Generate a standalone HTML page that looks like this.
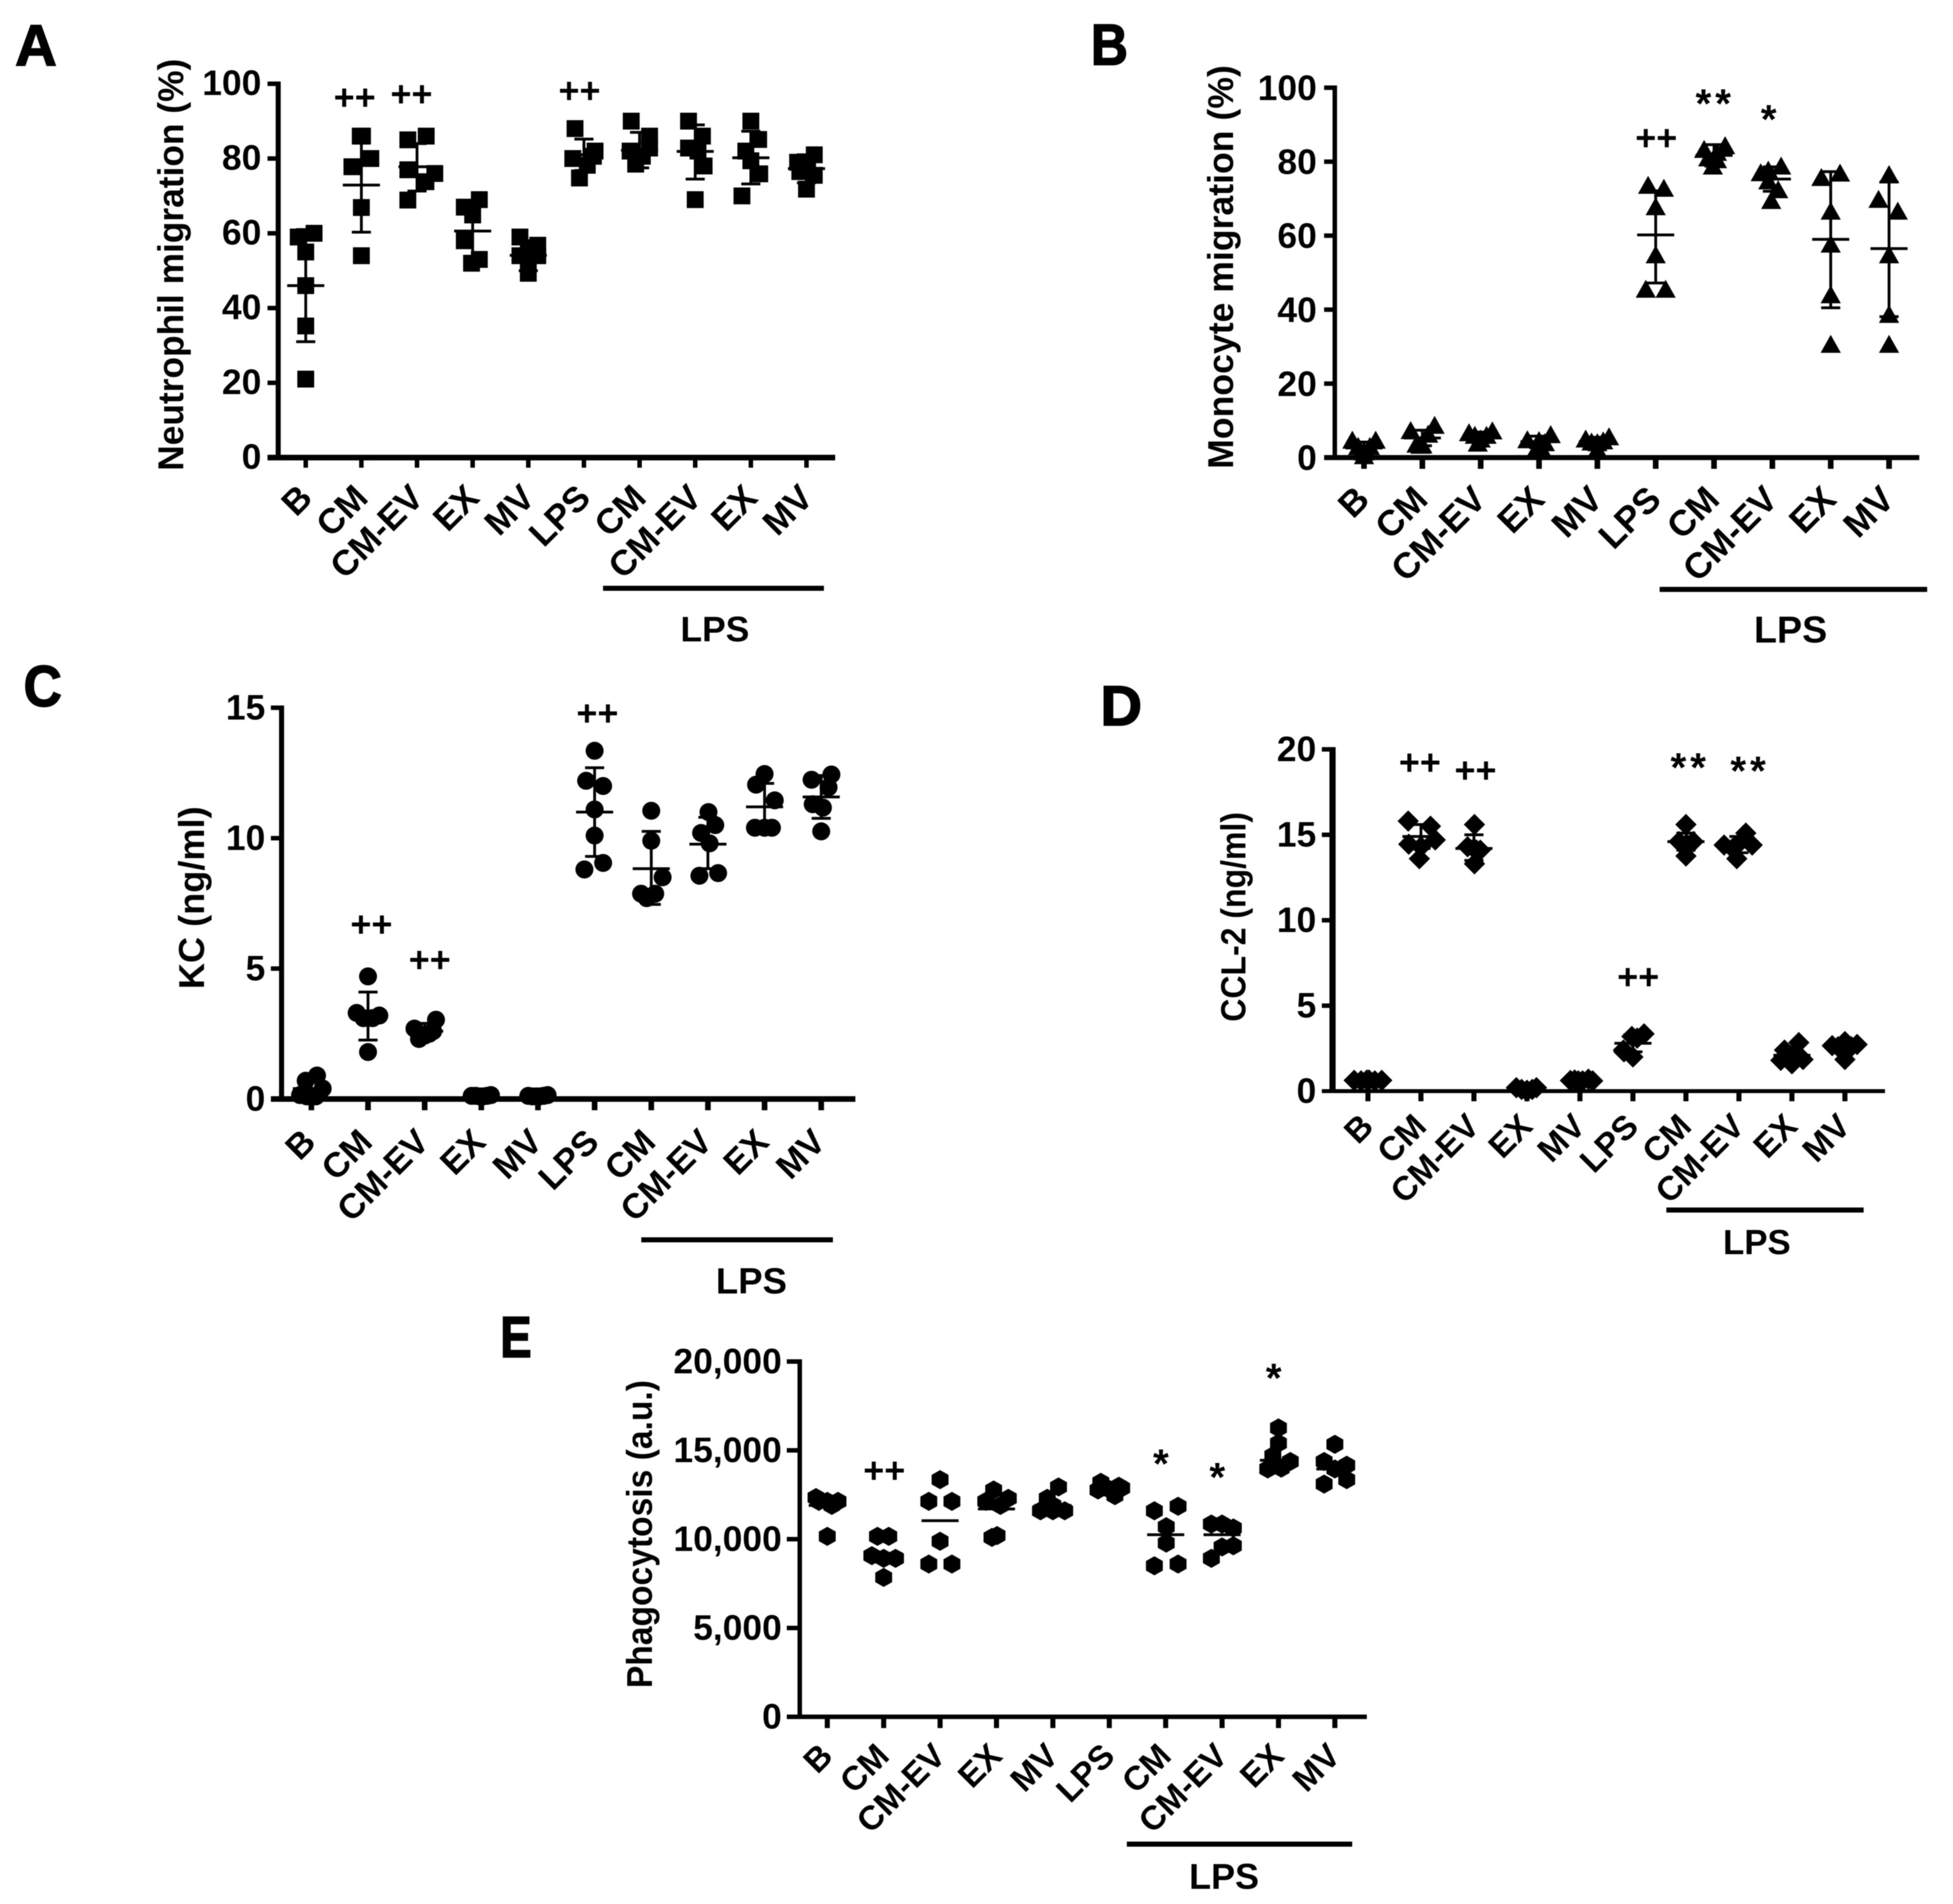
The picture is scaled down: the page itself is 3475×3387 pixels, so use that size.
<!DOCTYPE html>
<html lang="en">
<head>
<meta charset="utf-8">
<title>Migration, chemokine and phagocytosis panels</title>
<style>
  html, body { margin: 0; padding: 0; background: #fff; }
  svg { display: block; filter: blur(0.9px); }
  text { font-family: "Liberation Sans", Arial, sans-serif; font-weight: bold; fill: #000; }
  .letter { stroke: #000; stroke-width: 2.5px; }
</style>
</head>
<body>
<svg id="figure" xmlns="http://www.w3.org/2000/svg" width="3475" height="3387" viewBox="0 0 3475 3387">
  <rect width="3475" height="3387" fill="#fff"/>

  <g id="panel-a">
    <text class="letter" x="27" y="116" font-size="103" textLength="74" lengthAdjust="spacingAndGlyphs">A</text>
    <text transform="translate(326,471) rotate(-90)" text-anchor="middle" font-size="64" textLength="733" lengthAdjust="spacingAndGlyphs">Neutrophil migration (%)</text>
    <rect x="1073" y="1042" width="393" height="9"/>
    <text x="1272" y="1141" text-anchor="middle" font-size="63">LPS</text>
  </g>
  <g id="panel-b">
    <text class="letter" x="1941" y="115" font-size="103" textLength="66" lengthAdjust="spacingAndGlyphs">B</text>
    <text transform="translate(2194,475) rotate(-90)" text-anchor="middle" font-size="64" textLength="718" lengthAdjust="spacingAndGlyphs">Monocyte migration (%)</text>
    <rect x="2953" y="1044" width="476" height="9"/>
    <text x="3186" y="1143" text-anchor="middle" font-size="67">LPS</text>
  </g>
  <g id="panel-c">
    <text class="letter" x="42" y="1256" font-size="103" textLength="68" lengthAdjust="spacingAndGlyphs">C</text>
    <text transform="translate(363,1597) rotate(-90)" text-anchor="middle" font-size="64" textLength="325" lengthAdjust="spacingAndGlyphs">KC (ng/ml)</text>
    <rect x="1141" y="2201" width="341" height="9"/>
    <text x="1337" y="2301" text-anchor="middle" font-size="65">LPS</text>
  </g>
  <g id="panel-d">
    <text class="letter" x="1958" y="1290" font-size="100" textLength="74" lengthAdjust="spacingAndGlyphs">D</text>
    <text transform="translate(2216,1631) rotate(-90)" text-anchor="middle" font-size="62" textLength="373" lengthAdjust="spacingAndGlyphs">CCL-2 (ng/ml)</text>
    <rect x="2965" y="2148" width="351" height="9"/>
    <text x="3126" y="2231" text-anchor="middle" font-size="62">LPS</text>
  </g>
  <g id="panel-e">
    <text class="letter" x="890" y="2414" font-size="103" textLength="56" lengthAdjust="spacingAndGlyphs">E</text>
    <text transform="translate(1160,2729) rotate(-90)" text-anchor="middle" font-size="64" textLength="548" lengthAdjust="spacingAndGlyphs">Phagocytosis (a.u.)</text>
    <rect x="2005" y="3276" width="401" height="9"/>
    <text x="2178" y="3360" text-anchor="middle" font-size="64">LPS</text>
  </g>
</svg>

<script>
// Shared categories
const categories = ['B', 'CM', 'CM-EV', 'EX', 'MV', 'LPS', 'CM', 'CM-EV', 'EX', 'MV'];

// Panel A: neutrophil migration (%)
const neutrophilTicks = [0, 20, 40, 60, 80, 100];
const neutrophilValues = [
  [59, 60, 55, 46, 35.2, 21],
  [86, 86, 80, 77.8, 66.9, 54],
  [86, 85, 77, 76, 73.8, 68.9],
  [69, 67, 64.9, 58, 53, 52],
  [59, 56.8, 55, 54, 54, 51.8, 49.3],
  [88, 82, 80.6, 80, 78.2, 74.8],
  [90, 86, 82.8, 82, 80.6, 78.5],
  [90, 86, 82.8, 82, 78, 69],
  [90, 85.1, 82, 79.4, 75.9, 70],
  [81, 79, 77, 75.5, 76.5, 71.8]
];
const neutrophilSpread = [
  [-0.135, 0.15, 0, 0, 0, 0],
  [-0.02, 0.02, 0.17, -0.17, 0, 0],
  [0.165, -0.165, -0.165, 0.32, 0.16, -0.165],
  [0.12, -0.15, 0, -0.15, 0.12, -0.02],
  [-0.15, 0.17, 0, -0.15, 0.17, 0, 0],
  [-0.16, 0.2, 0.17, -0.2, 0.06, -0.08],
  [-0.15, 0.18, 0.18, -0.17, 0.05, -0.07],
  [-0.12, 0.13, -0.12, 0.05, 0.16, 0],
  [0, 0.14, -0.09, 0, 0.16, -0.16],
  [0.14, -0.16, 0.02, 0.14, -0.12, 0]
];
const neutrophilMeans = [46, 72.9, 77.8, 60.6, 54.1, 81, 82.2, 81.9, 80.2, 77.3];
const neutrophilHigh = [61, 85.5, 84, 67.5, 58, 85.2, 87, 89, 87.3, 81];
const neutrophilLow = [31, 60.3, 71.3, 53.7, 50, 76.8, 77.5, 74.5, 73.2, 73.5];
const neutrophilMarkLabels = ['++', '++', '++'];
const neutrophilMarkPositions = [0.88, 1.9, 4.92];
const neutrophilMarkValues = [96.4, 97.3, 98.2];

// Panel B: monocyte migration (%)
const monocyteTicks = [0, 20, 40, 60, 80, 100];
const monocyteValues = [
  [4.7, 4.7, 3, 3, 1.5, 0.5],
  [8.7, 7.3, 6.3, 3.6, 3.4, 3.3],
  [7.2, 6.7, 6, 6, 5, 3.9],
  [6.2, 4.8, 4.6, 4, 2.2, 2.2],
  [5.6, 5, 4.5, 4.2, 4, 2.2],
  [73.6, 72.8, 67.8, 54.8, 45.5, 45.5],
  [84.3, 83.3, 82.5, 81, 80.5, 78.8],
  [78.8, 77.7, 77, 74.8, 72.4, 69.5],
  [76.9, 75.7, 66.6, 57.7, 44, 30.6],
  [76.5, 69.8, 66.6, 54.8, 38.7, 30.6]
];
const monocyteSpread = [
  [-0.2, 0.2, -0.1, 0.1, 0, 0],
  [0.21, -0.2, 0.1, -0.1, 0, -0.03],
  [0.2, -0.2, -0.1, 0.1, 0, -0.05],
  [0.2, -0.2, 0, 0.1, -0.05, 0.05],
  [0.2, -0.2, 0.1, -0.1, 0, 0],
  [-0.13, 0.14, 0, 0, -0.17, 0.17],
  [0.19, -0.17, 0.05, -0.1, 0.05, -0.02],
  [0.15, -0.07, -0.2, -0.07, 0.1, -0.02],
  [0.16, -0.16, 0, 0, 0, 0],
  [0, -0.18, 0.15, 0, 0, 0]
];
const monocyteMeans = [2.6, 5.3, 5.5, 4.3, 4.3, 60.2, 81.7, 75.3, 59, 56.5];
const monocyteHigh = [4.2, 7.4, 6.9, 5.8, 5.5, 72.1, 84.6, 78.6, 77.3, 74.5];
const monocyteLow = [1, 3.2, 4.1, 2.8, 3.1, 47.2, 78.8, 72, 40.5, 38.1];
const monocyteMarkLabels = ['++', '**', '*'];
const monocyteMarkPositions = [5.01, 6.02, 6.97];
const monocyteMarkValues = [86.5, 97.6, 93.3];

// Panel C: KC (ng/ml)
const kcTicks = [0, 5, 10, 15];
const kcValues = [
  [0.9, 0.7, 0.4, 0.15, 0.1, 0.1],
  [4.7, 3.3, 3.2, 3.1, 3.1, 1.8],
  [3.04, 2.7, 2.6, 2.43, 2.3, 2.5],
  [0.12, 0.12, 0.1, 0.1, 0.12, 0.15],
  [0.12, 0.1, 0.1, 0.1, 0.12, 0.15],
  [13.35, 12.2, 12, 11.1, 10.1, 9.05, 8.8],
  [11.05, 9.9, 8.5, 7.87, 7.87, 7.7],
  [11, 10.5, 10.2, 9.8, 8.66, 8.56],
  [12.46, 12.05, 11.45, 10.4, 10.4, 10.4],
  [12.44, 12.24, 11.95, 11.3, 11.17, 10.26]
];
const kcSpread = [
  [0.1, -0.1, 0.2, -0.2, -0.08, 0.08],
  [0, -0.2, 0.2, -0.08, 0.08, 0],
  [0.2, -0.18, 0.15, 0, -0.1, 0.08],
  [-0.17, -0.1, -0.03, 0.03, 0.1, 0.17],
  [-0.17, -0.1, -0.03, 0.03, 0.1, 0.17],
  [0, -0.15, 0.15, 0, 0, 0.15, -0.18],
  [0, 0, 0.2, -0.18, 0.07, -0.08],
  [0.01, 0.13, -0.12, 0.03, 0.18, -0.15],
  [0, -0.15, 0.18, -0.17, 0.13, 0],
  [0.18, -0.17, 0.13, -0.15, 0.03, 0]
];
const kcMeans = [0.4, 3.2, 2.6, 0.12, 0.12, 11, 8.83, 9.77, 11.2, 11.58];
const kcHigh = [0.75, 4.1, 2.9, 0.15, 0.15, 12.7, 10.26, 10.8, 12.1, 12.4];
const kcLow = [0.05, 2.26, 2.3, 0.1, 0.1, 9.3, 7.46, 8.83, 10.3, 10.76];
const kcMarkLabels = ['++', '++', '++'];
const kcMarkPositions = [1.06, 2.09, 5.05];
const kcMarkValues = [6.7, 5.34, 14.8];

// Panel D: CCL-2 (ng/ml)
const cclTicks = [0, 5, 10, 15, 20];
const cclValues = [
  [0.63, 0.6, 0.65, 0.65, 0.6, 0.63],
  [15.8, 15.5, 14.7, 14.45, 14.3, 13.6],
  [15.6, 14.3, 14.2, 14.1, 14.1, 13.3],
  [0.2, 0.2, 0.1, 0.1, 0.05, 0],
  [0.62, 0.7, 0.6, 0.6, 0.6, 0.65],
  [3.35, 3.2, 3.1, 2.4, 2.3, 2],
  [15.6, 14.6, 14.6, 14.4, 14.4, 13.76],
  [15.1, 14.5, 14.4, 14.4, 14.2, 13.6],
  [2.84, 2.4, 2.1, 1.85, 1.8, 1.6],
  [2.9, 2.73, 2.66, 2.6, 2.6, 1.85]
];
const cclSpread = [
  [-0.26, -0.13, -0.02, 0.02, 0.13, 0.26],
  [-0.24, 0.18, 0.27, -0.23, 0, -0.03],
  [0.01, -0.12, 0, 0.12, 0.05, 0.01],
  [-0.2, 0.18, -0.1, 0.1, 0, 0],
  [-0.18, 0.16, -0.03, 0.24, 0.05, -0.1],
  [0.21, -0.02, 0.08, -0.18, -0.17, 0],
  [0, -0.13, 0.14, 0, 0.03, 0],
  [0.13, 0, -0.28, 0.25, -0.12, -0.04],
  [0.13, -0.14, 0, 0.21, -0.21, 0],
  [0, 0.23, -0.24, -0.13, 0.12, 0]
];
const cclMeans = [0.63, 14.9, 14.2, 0.1, 0.63, 2.8, 14.6, 14.4, 2.1, 2.65];
const cclHigh = [0.7, 15.6, 15, 0.2, 0.72, 3.3, 15.1, 14.9, 2.5, 2.95];
const cclLow = [0.56, 14.2, 13.5, 0, 0.55, 2.3, 14.1, 13.95, 1.7, 2.3];
const cclMarkLabels = ['++', '++', '++', '**', '**'];
const cclMarkPositions = [0.98, 2.03, 5.1, 6.08, 7.21];
const cclMarkValues = [19.24, 18.78, 6.7, 19.35, 19.15];

// Panel E: phagocytosis (a.u.)
const phagoTicks = [0, 5000, 10000, 15000, 20000];
const phagoTickLabels = ['0', '5,000', '10,000', '15,000', '20,000'];
const phagoValues = [
  [12340, 12130, 12130, 12130, 11900, 10160],
  [10160, 10160, 9070, 8920, 8920, 7850],
  [13350, 12130, 12130, 9880, 8600, 8600],
  [12770, 12300, 12130, 11900, 10200, 10100],
  [12940, 12300, 11900, 11600, 11600, 11600],
  [13200, 12980, 12880, 12770, 12800, 12450],
  [11850, 11600, 10700, 9780, 8600, 8500],
  [10850, 10850, 10630, 9630, 9560, 8920],
  [16260, 15400, 14700, 14370, 14000, 13950],
  [15340, 14370, 14160, 13950, 13350, 13100]
];
const phagoSpread = [
  [-0.2, 0, 0.19, -0.15, 0.08, 0],
  [-0.11, 0.09, -0.21, 0, 0.21, 0],
  [0, -0.2, 0.21, 0, -0.2, 0.21],
  [-0.05, 0.21, -0.19, 0.07, 0.01, -0.08],
  [0.1, -0.1, 0, -0.22, 0.21, 0],
  [-0.15, 0.17, 0.22, -0.2, 0, 0.1],
  [0.22, -0.2, 0.01, 0.01, 0.22, -0.2],
  [-0.19, 0, 0.2, 0.2, 0, -0.19],
  [0, 0, -0.1, 0.21, 0.05, -0.19],
  [0, -0.19, 0.21, 0, 0.21, -0.19]
];
const phagoMeans = [11900, 9200, 11040, 11700, 11900, 12900, 10250, 10250, 14440, 13950];
const phagoMarkLabels = ['++', '*', '*', '*'];
const phagoMarkPositions = [1.01, 5.95, 6.95, 7.95];
const phagoMarkValues = [13880, 14640, 13880, 19460];

const NS = 'http://www.w3.org/2000/svg';

function make(parent, tag, attrs) {
  const el = document.createElementNS(NS, tag);
  for (const key in attrs) el.setAttribute(key, attrs[key]);
  parent.appendChild(el);
  return el;
}

function markerPath(shape, cx, cy) {
  if (shape === 'square') {
    return `M${cx - 15},${cy - 15}H${cx + 15}V${cy + 15}H${cx - 15}Z`;
  }
  if (shape === 'triangle') {
    return `M${cx},${cy - 17}L${cx + 18},${cy + 15}H${cx - 18}Z`;
  }
  if (shape === 'diamond') {
    return `M${cx},${cy - 19}L${cx + 19},${cy}L${cx},${cy + 19}L${cx - 19},${cy}Z`;
  }
  if (shape === 'hexagon') {
    return `M${cx},${cy - 17}L${cx + 15},${cy - 8.5}V${cy + 8.5}L${cx},${cy + 17}L${cx - 15},${cy + 8.5}V${cy - 8.5}Z`;
  }
  return `M${cx - 16},${cy}A16,16 0 1 0 ${cx + 16},${cy}A16,16 0 1 0 ${cx - 16},${cy}Z`;
}

function drawPanel(cfg) {
  const root = document.getElementById(cfg.id);
  const yOf = v => cfg.y0 - (v / cfg.yMax) * (cfg.y0 - cfg.yTop);
  const xOf = i => cfg.x0 + i * cfg.step;

  const axisGroup = make(root, 'g', {});
  
  

  const yAxis = make(axisGroup, 'rect', {
    x: cfg.axisX - cfg.yW / 2, y: cfg.yTop - 4, width: cfg.yW, height: cfg.y0 - cfg.yTop + 4
  });
  
  

  const xAxis = make(axisGroup, 'rect', {
    x: cfg.tickStart, y: cfg.y0 - cfg.xH / 2, width: cfg.xEnd - cfg.tickStart, height: cfg.xH
  });
  
  

  cfg.ticks.forEach((t, i) => {
    const y = yOf(t);
    if (t !== 0) {
      const tick = make(axisGroup, 'rect', {
        x: cfg.tickStart, y: y - 4, width: cfg.axisX - cfg.tickStart, height: 8
      });
      
      
    }
    const label = make(axisGroup, 'text', {
      x: cfg.labelEnd, y: y + cfg.labelDy, 'text-anchor': 'end', 'font-size': 63
    });
    
    
    label.textContent = cfg.tickLabels ? cfg.tickLabels[i] : String(t);
  });

  categories.forEach((c, i) => {
    const x = xOf(i);
    const tick = make(axisGroup, 'rect', {
      x: x - cfg.tickW / 2, y: cfg.y0, width: cfg.tickW, height: cfg.tickEnd - cfg.y0
    });
    
    
    const label = make(axisGroup, 'text', {
      transform: `translate(${x + cfg.catDx},${cfg.y0 + cfg.catDy}) rotate(-45)`,
      'text-anchor': 'end', 'font-size': cfg.catSize
    });
    
    
    label.textContent = c;
  });

  cfg.values.forEach((group, i) => {
    const g = make(root, 'g', {});
    
    
    group.forEach((v, j) => {
      const cx = xOf(i + cfg.spread[i][j]);
      const cy = yOf(v);
      const p = make(g, 'path', { d: markerPath(cfg.shape, cx, cy), fill: '#000' });
      
      
    });
    const x = xOf(i);
    if (cfg.high) {
      const stem = make(g, 'rect', {
        x: x - 2.5, y: yOf(cfg.high[i]), width: 5, height: yOf(cfg.low[i]) - yOf(cfg.high[i])
      });
      
      
      [cfg.high[i], cfg.low[i]].forEach(e => {
        const cap = make(g, 'rect', { x: x - 17, y: yOf(e) - 2.5, width: 34, height: 5 });
        
        
      });
    }
    const mean = make(g, 'rect', { x: x - 33, y: yOf(cfg.means[i]) - 2.5, width: 66, height: 5 });
    
    
  });

  cfg.markLabels.forEach((m, i) => {
    const isPlus = m[0] === '+';
    const size = isPlus ? 64 : 72;
    const mark = make(root, 'text', {
      x: xOf(cfg.markPositions[i]),
      y: yOf(cfg.markValues[i]) + (isPlus ? 22 : 37),
      'text-anchor': 'middle',
      'font-size': size,
      'letter-spacing': isPlus ? 0 : 7
    });
    
    
    mark.textContent = m;
  });
}

drawPanel({
  id: 'panel-a', shape: 'square', x0: 544, step: 99, y0: 814, yTop: 149, yMax: 100,
  axisX: 495, yW: 9, xH: 10, tickStart: 476, xEnd: 1486, tickW: 8, tickEnd: 832,
  labelEnd: 465, labelDy: 20, catDx: 15, catDy: 75, catSize: 63,
  ticks: neutrophilTicks, values: neutrophilValues, spread: neutrophilSpread,
  means: neutrophilMeans, high: neutrophilHigh, low: neutrophilLow,
  markLabels: neutrophilMarkLabels, markPositions: neutrophilMarkPositions, markValues: neutrophilMarkValues
});
drawPanel({
  id: 'panel-b', shape: 'triangle', x0: 2427, step: 103.8, y0: 814, yTop: 156, yMax: 100,
  axisX: 2375, yW: 8, xH: 9, tickStart: 2356, xEnd: 3415, tickW: 10, tickEnd: 834,
  labelEnd: 2343, labelDy: 22, catDx: 13, catDy: 78, catSize: 64,
  ticks: monocyteTicks, values: monocyteValues, spread: monocyteSpread,
  means: monocyteMeans, high: monocyteHigh, low: monocyteLow,
  markLabels: monocyteMarkLabels, markPositions: monocyteMarkPositions, markValues: monocyteMarkValues
});
drawPanel({
  id: 'panel-c', shape: 'circle', x0: 554, step: 100.8, y0: 1955, yTop: 1259, yMax: 15,
  axisX: 501, yW: 9, xH: 10, tickStart: 482, xEnd: 1522, tickW: 10, tickEnd: 1975,
  labelEnd: 472, labelDy: 21, catDx: 11, catDy: 80, catSize: 62,
  ticks: kcTicks, values: kcValues, spread: kcSpread,
  means: kcMeans, high: kcHigh, low: kcLow,
  markLabels: kcMarkLabels, markPositions: kcMarkPositions, markValues: kcMarkValues
});
drawPanel({
  id: 'panel-d', shape: 'diamond', x0: 2434, step: 94.3, y0: 1941, yTop: 1333, yMax: 20,
  axisX: 2371, yW: 11, xH: 7, tickStart: 2352, xEnd: 3354, tickW: 9, tickEnd: 1959,
  labelEnd: 2342, labelDy: 21, catDx: 13, catDy: 66, catSize: 60,
  ticks: cclTicks, values: cclValues, spread: cclSpread,
  means: cclMeans, high: cclHigh, low: cclLow,
  markLabels: cclMarkLabels, markPositions: cclMarkPositions, markValues: cclMarkValues
});
drawPanel({
  id: 'panel-e', shape: 'hexagon', x0: 1472, step: 100.35, y0: 3054, yTop: 2422, yMax: 20000,
  axisX: 1423, yW: 8, xH: 8, tickStart: 1400, xEnd: 2432, tickW: 9, tickEnd: 3074,
  labelEnd: 1391, labelDy: 21, catDx: 13, catDy: 73, catSize: 60,
  ticks: phagoTicks, tickLabels: phagoTickLabels, values: phagoValues, spread: phagoSpread,
  means: phagoMeans,
  markLabels: phagoMarkLabels, markPositions: phagoMarkPositions, markValues: phagoMarkValues
});
</script>
</body>
</html>
